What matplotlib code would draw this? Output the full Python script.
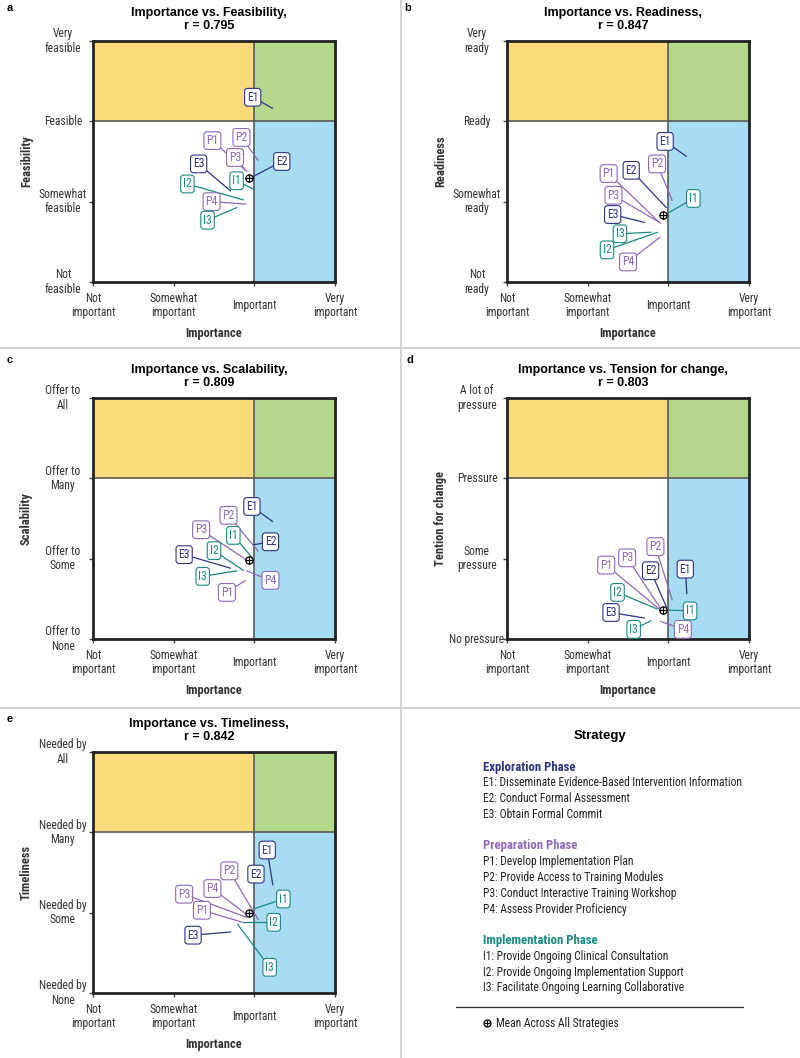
import numpy as np
import matplotlib
matplotlib.use("Agg")
import matplotlib.pyplot as plt
import matplotlib.transforms as mtransforms
from matplotlib import font_manager

# --- fonts: use a narrow face if there is one ---
_fonts = font_manager.fontManager.ttflist
_names = {f.name for f in _fonts}
_prefs = ["Liberation Sans Narrow", "Noto Sans Condensed", "Roboto Condensed",
          "Open Sans Condensed", "Noto Sans SemiCondensed", "Open Sans SemiCondensed",
          "Noto Sans Display Condensed"]
_avail = [n for n in _prefs if n in _names]
STRETCH = "normal"
if _avail:
    NARROW = _avail[0]
elif any(f.name == "Noto Sans" and f.stretch == "condensed" for f in _fonts):
    NARROW, STRETCH = "Noto Sans", "condensed"
elif any(f.name == "DejaVu Sans" and f.stretch == "condensed" for f in _fonts):
    NARROW, STRETCH = "DejaVu Sans", "condensed"
else:
    NARROW = "Lato" if "Lato" in _names else "DejaVu Sans"
WIDE = "Liberation Sans" if "Liberation Sans" in _names else "DejaVu Sans"
plt.rcParams["font.family"] = [NARROW, "DejaVu Sans"]
plt.rcParams["font.stretch"] = STRETCH

# --- data ---
strategies = ["E1", "E2", "E3", "P1", "P2", "P3", "P4", "I1", "I2", "I3"]
phases = ["E", "E", "E", "P", "P", "P", "P", "I", "I", "I"]
importance = [3.23, 2.98, 2.71, 2.89, 3.05, 2.91, 2.90, 3.00, 2.87, 2.79]
feasibility = [3.16, 2.31, 2.13, 2.39, 2.51, 2.37, 1.97, 2.15, 2.02, 1.93]
readiness = [2.56, 1.92, 1.74, 1.74, 2.01, 1.73, 1.56, 1.86, 1.62, 1.62]
scalability = [2.46, 2.17, 1.88, 1.73, 2.09, 1.98, 1.85, 1.98, 1.85, 1.85]
tension = [1.56, 1.39, 1.26, 1.37, 1.48, 1.37, 1.22, 1.36, 1.37, 1.23]
timeliness = [2.34, 2.42, 1.76, 1.87, 1.91, 1.94, 1.98, 2.05, 1.88, 1.86]
r_values = [0.795, 0.847, 0.809, 0.803, 0.842]

importance_ticks = ["Not\nimportant", "Somewhat\nimportant", "Important", "Very\nimportant"]
feas_ticks = ["Not\nfeasible", "Somewhat\nfeasible", "Feasible", "Very\nfeasible"]
ready_ticks = ["Not\nready", "Somewhat\nready", "Ready", "Very\nready"]
scal_ticks = ["Offer to\nNone", "Offer to\nSome", "Offer to\nMany", "Offer to\nAll"]
tension_ticks = ["No pressure", "Some\npressure", "Pressure", "A lot of\npressure"]
time_ticks = ["Needed by\nNone", "Needed by\nSome", "Needed by\nMany", "Needed by\nAll"]

legend_groups = [
    ("Exploration Phase", "E", ["E1: Disseminate Evidence-Based Intervention Information",
                                "E2: Conduct Formal Assessment",
                                "E3: Obtain Formal Commit"]),
    ("Preparation Phase", "P", ["P1: Develop Implementation Plan",
                                "P2: Provide Access to Training Modules",
                                "P3: Conduct Interactive Training Workshop",
                                "P4: Assess Provider Proficiency"]),
    ("Implementation Phase", "I", ["I1: Provide Ongoing Clinical Consultation",
                                   "I2: Provide Ongoing Implementation Support",
                                   "I3: Facilitate Ongoing Learning Collaborative"]),
]

# label box centres (data coords), same order as strategies
label_pos = {
    "a": [(2.98, 3.30), (3.34, 2.50), (2.31, 2.47), (2.48, 2.76), (2.84, 2.80),
          (2.76, 2.55), (2.47, 2.00), (2.78, 2.26), (2.17, 2.22), (2.42, 1.77)],
    "b": [(2.96, 2.75), (2.54, 2.39), (2.31, 1.84), (2.26, 2.35), (2.86, 2.47),
          (2.32, 2.08), (2.50, 1.25), (3.31, 2.04), (2.24, 1.40), (2.40, 1.60)],
    "c": [(2.97, 2.65), (3.20, 2.21), (2.13, 2.05), (2.66, 1.58), (2.68, 2.54),
          (2.34, 2.36), (3.20, 1.73), (2.74, 2.29), (2.50, 2.10), (2.36, 1.78)],
    "d": [(3.21, 1.87), (2.78, 1.85), (2.29, 1.33), (2.23, 1.92), (2.84, 2.15),
          (2.49, 2.01), (3.18, 1.12), (3.27, 1.35), (2.37, 1.58), (2.57, 1.12)],
    "e": [(3.16, 2.78), (3.02, 2.48), (2.24, 1.72), (2.35, 2.03), (2.69, 2.52),
          (2.13, 2.23), (2.48, 2.30), (3.36, 2.17), (3.24, 1.88), (3.19, 1.32)],
}

colors = {"E": "#2d3483", "P": "#8e69b8", "I": "#1b8a80"}
YELLOW, GREEN, BLUE = "#fadb7b", "#b3d78b", "#a8dcf3"

W, H = 800, 1058
fig = plt.figure(figsize=(W / 100, H / 100), dpi=100)


def fx(x):
    return x / W


def fy(y):
    return 1 - y / H


def panel(letter, left, top, yvals, yticks, ylabel, name, r):
    ax = fig.add_axes([fx(left), fy(top + 241), 242 / W, 241 / H])
    ax.set_xlim(1, 4)
    ax.set_ylim(1, 4)
    ax.fill_between([1, 3], 3, 4, color=YELLOW, lw=0, zorder=0)
    ax.fill_between([3, 4], 3, 4, color=GREEN, lw=0, zorder=0)
    ax.fill_between([3, 4], 1, 3, color=BLUE, lw=0, zorder=0)
    ax.axvline(3, color="#5a5a5a", lw=1.2, zorder=1)
    ax.axhline(3, color="#5a5a5a", lw=1.2, zorder=1)
    for s in ax.spines.values():
        s.set_linewidth(2)
        s.set_color("#222222")
    ax.set_xticks([1, 2, 3, 4])
    ax.set_yticks([1, 2, 3, 4])
    ax.set_xticklabels([])
    ax.set_yticklabels([])
    ax.tick_params(length=3, width=1, color="#444444")

    xt = mtransforms.blended_transform_factory(ax.transData, ax.transAxes)
    yt = mtransforms.blended_transform_factory(ax.transAxes, ax.transData)
    for i, lab in enumerate(importance_ticks):
        ax.text(i + 1, -0.097, lab, transform=xt, ha="center", va="center",
                fontsize=8.4, color="#333333", linespacing=1.15)
    for i, lab in enumerate(yticks):
        ax.text(-0.124, i + 1, lab, transform=yt, ha="center", va="center",
                fontsize=8.4, color="#333333", linespacing=1.15)
    ax.text(0.5, -0.212, "Importance", transform=ax.transAxes, ha="center",
            va="center", fontsize=9, fontweight="bold", color="#333333")
    ax.text(-0.275, 0.5, ylabel, transform=ax.transAxes, ha="center",
            va="center", rotation=90, fontsize=9, fontweight="bold", color="#333333")
    ax.text(0.48, 1.09, f"Importance vs. {name},\nr = {r:.3f}", transform=ax.transAxes,
            ha="center", va="center", fontsize=9, fontweight="bold",
            family=[WIDE, "DejaVu Sans"], fontstretch="normal", linespacing=1.1)

    # leader lines and labels
    for k, s in enumerate(strategies):
        c = colors[phases[k]]
        px, py = importance[k], yvals[k]
        lx, ly = label_pos[letter][k]
        ax.plot([lx, px], [ly, py], color=c, lw=0.9, zorder=3, solid_capstyle="butt")
        ax.text(lx, ly, s, ha="center", va="center", fontsize=8.5, color=c, zorder=6,
                bbox=dict(boxstyle="round,pad=0.2,rounding_size=0.25", fc="white",
                          ec=c, lw=0.8))
    mx, my = np.mean(importance), np.mean(yvals)
    ax.plot(mx, my, marker="o", ms=5.2, mfc="white", mec="black", mew=0.9, zorder=7)
    ax.plot(mx, my, marker="+", ms=5.2, color="black", mew=0.9, zorder=8)
    return ax


panel("a", 93, 41, feasibility, feas_ticks, "Feasibility", "Feasibility", r_values[0])
panel("b", 507, 41, readiness, ready_ticks, "Readiness", "Readiness", r_values[1])
panel("c", 93, 398, scalability, scal_ticks, "Scalability", "Scalability", r_values[2])
panel("d", 507, 398, tension, tension_ticks, "Tention for change", "Tension for change", r_values[3])
panel("e", 93, 752, timeliness, time_ticks, "Timeliness", "Timeliness", r_values[4])

# panel letters
for lt, (x, y) in zip("abcde", [(10, 8), (408, 8), (10, 360), (410, 360), (10, 719)]):
    fig.text(fx(x), fy(y), lt, fontsize=8, fontweight="bold", ha="center", va="center",
             family=[WIDE, "DejaVu Sans"], fontstretch="normal")

# separators
sep = "#d4d4d4"
fig.add_artist(plt.Line2D([0, 1], [fy(348), fy(348)], transform=fig.transFigure, color=sep, lw=1.5))
fig.add_artist(plt.Line2D([0, 1], [fy(708), fy(708)], transform=fig.transFigure, color=sep, lw=1.5))
fig.add_artist(plt.Line2D([fx(401), fx(401)], [0, 1], transform=fig.transFigure, color=sep, lw=1.5))

# strategy legend
fig.text(fx(600), fy(736), "Strategy", ha="center", va="center", fontsize=9.5,
         fontweight="bold", family=[WIDE, "DejaVu Sans"], fontstretch="normal")
y = 767
for head, ph, items in legend_groups:
    fig.text(fx(483), fy(y), head, ha="left", va="center", fontsize=9.2,
             fontweight="bold", color=colors[ph])
    for it in items:
        y += 15.8
        fig.text(fx(483), fy(y), it, ha="left", va="center", fontsize=8.3, color="#222222")
    y += 31.5
fig.add_artist(plt.Line2D([fx(456), fx(743)], [fy(1007), fy(1007)],
                          transform=fig.transFigure, color="#333333", lw=0.9))
fig.add_artist(plt.Line2D([fx(487)], [fy(1023)], transform=fig.transFigure, marker="o",
                          ms=5, mfc="white", mec="black", mew=0.9))
fig.add_artist(plt.Line2D([fx(487)], [fy(1023)], transform=fig.transFigure, marker="+",
                          ms=5, color="black", mew=0.9))
fig.text(fx(496), fy(1023), "Mean Across All Strategies", ha="left", va="center",
         fontsize=8.3, color="#222222")

fig.savefig("out.png", dpi=100)
